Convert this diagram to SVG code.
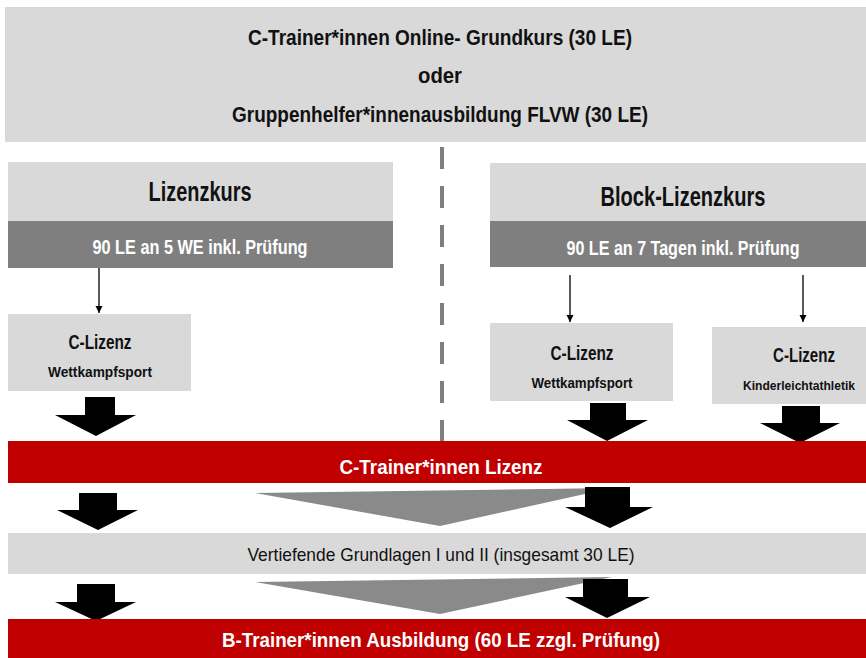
<svg xmlns="http://www.w3.org/2000/svg" width="866" height="658" viewBox="0 0 866 658">
<style>
.lg{fill:#d9d9d9}
.dg{fill:#7f7f7f}
.red{fill:#c00000}
.t{font-family:"Liberation Sans Narrow","Liberation Sans",Arial,sans-serif;text-anchor:middle;fill:#111}
.b{font-weight:bold}
.w{fill:#ffffff}
.big{fill:#000}
.tri{fill:#8a8a8a}
.thin{stroke:#000;stroke-width:1.3;fill:none}
</style>
<defs>
<marker id="ah" markerWidth="8" markerHeight="8" refX="7" refY="4" orient="auto" markerUnits="userSpaceOnUse">
<path d="M0,0.5 L7,4 L0,7.5 Z" fill="#000"/>
</marker>
</defs>

<g id="top">
<rect class="lg" x="5" y="7" width="861" height="135"/>
<text class="t b" x="440" y="45" font-size="22" textLength="384" lengthAdjust="spacingAndGlyphs">C-Trainer*innen Online- Grundkurs (30 LE)</text>
<text class="t b" x="440" y="83" font-size="22" textLength="44" lengthAdjust="spacingAndGlyphs">oder</text>
<text class="t b" x="440" y="122" font-size="22" textLength="416" lengthAdjust="spacingAndGlyphs">Gruppenhelfer*innenausbildung FLVW (30 LE)</text>
</g>

<g id="connectors">
<line x1="442" y1="147" x2="442" y2="441" stroke="#7f7f7f" stroke-width="4" stroke-dasharray="22 17"/>
<line class="thin" x1="99" y1="268" x2="99" y2="313" marker-end="url(#ah)"/>
<line class="thin" x1="570" y1="275" x2="570" y2="322" marker-end="url(#ah)"/>
<line class="thin" x1="803" y1="275" x2="803" y2="322" marker-end="url(#ah)"/>
<polygon class="big" points="85,397 115,397 115,415 136,415 96,436 55,415 85,415"/>
<polygon class="big" points="590,403 626,403 626,420 648,420 607,441 567,420 590,420"/>
<polygon class="big" points="782,406 820,406 820,423 840,423 800,443 760,423 782,423"/>
<polygon class="tri" points="255,493 612,488 440,526"/>
<polygon class="big" points="79,493 117,493 117,510 138,510 98,530 57,510 79,510"/>
<polygon class="big" points="585,487 630,487 630,507 653,507 610,528 565,507 585,507"/>
<polygon class="tri" points="255,582 612,577 440,614"/>
<polygon class="big" points="77,584 115,584 115,602 136,602 96,621 55,602 77,602"/>
<polygon class="big" points="583,579 628,579 628,597 650,597 607,618 565,597 583,597"/>
</g>

<g id="lizenzkurs">
<rect class="lg" x="8" y="162" width="385" height="59"/>
<rect class="dg" x="8" y="221" width="385" height="47"/>
<text class="t b" x="200" y="201" font-size="27" textLength="103" lengthAdjust="spacingAndGlyphs">Lizenzkurs</text>
<text class="t b w" x="200" y="254" font-size="20" textLength="215" lengthAdjust="spacingAndGlyphs">90 LE an 5 WE inkl. Prüfung</text>
</g>

<g id="block-lizenzkurs">
<rect class="lg" x="490" y="163" width="376" height="58"/>
<rect class="dg" x="490" y="221" width="376" height="46"/>
<text class="t b" x="683" y="206" font-size="27" textLength="165" lengthAdjust="spacingAndGlyphs">Block-Lizenzkurs</text>
<text class="t b w" x="683" y="255" font-size="20" textLength="233" lengthAdjust="spacingAndGlyphs">90 LE an 7 Tagen inkl. Prüfung</text>
</g>

<g id="c-lizenz-wk-left">
<rect class="lg" x="8" y="314" width="183" height="77"/>
<text class="t b" x="100" y="349" font-size="20" textLength="63" lengthAdjust="spacingAndGlyphs">C-Lizenz</text>
<text class="t b" x="100" y="377" font-size="14" textLength="104" lengthAdjust="spacingAndGlyphs">Wettkampfsport</text>
</g>

<g id="c-lizenz-wk-right">
<rect class="lg" x="490" y="323" width="183" height="78"/>
<text class="t b" x="582" y="360" font-size="20" textLength="63" lengthAdjust="spacingAndGlyphs">C-Lizenz</text>
<text class="t b" x="582" y="388" font-size="14" textLength="101" lengthAdjust="spacingAndGlyphs">Wettkampfsport</text>
</g>

<g id="c-lizenz-kla">
<rect class="lg" x="712" y="327" width="154" height="77"/>
<text class="t b" x="804" y="362" font-size="20" textLength="62" lengthAdjust="spacingAndGlyphs">C-Lizenz</text>
<text class="t b" x="799" y="390" font-size="13.5" textLength="112" lengthAdjust="spacingAndGlyphs">Kinderleichtathletik</text>
</g>

<g id="c-trainer">
<rect class="red" x="8" y="441" width="858" height="42"/>
<text class="t b w" x="441" y="474" font-size="21" textLength="203" lengthAdjust="spacingAndGlyphs">C-Trainer*innen Lizenz</text>
</g>

<g id="vertiefende">
<rect class="lg" x="8" y="533" width="858" height="41"/>
<text class="t" x="441" y="561" font-size="19" textLength="387" lengthAdjust="spacingAndGlyphs">Vertiefende Grundlagen I und II (insgesamt 30 LE)</text>
</g>

<g id="b-trainer">
<rect class="red" x="8" y="619" width="858" height="39"/>
<text class="t b w" x="441" y="647" font-size="21" textLength="438" lengthAdjust="spacingAndGlyphs">B-Trainer*innen Ausbildung (60 LE zzgl. Prüfung)</text>
</g>
</svg>
